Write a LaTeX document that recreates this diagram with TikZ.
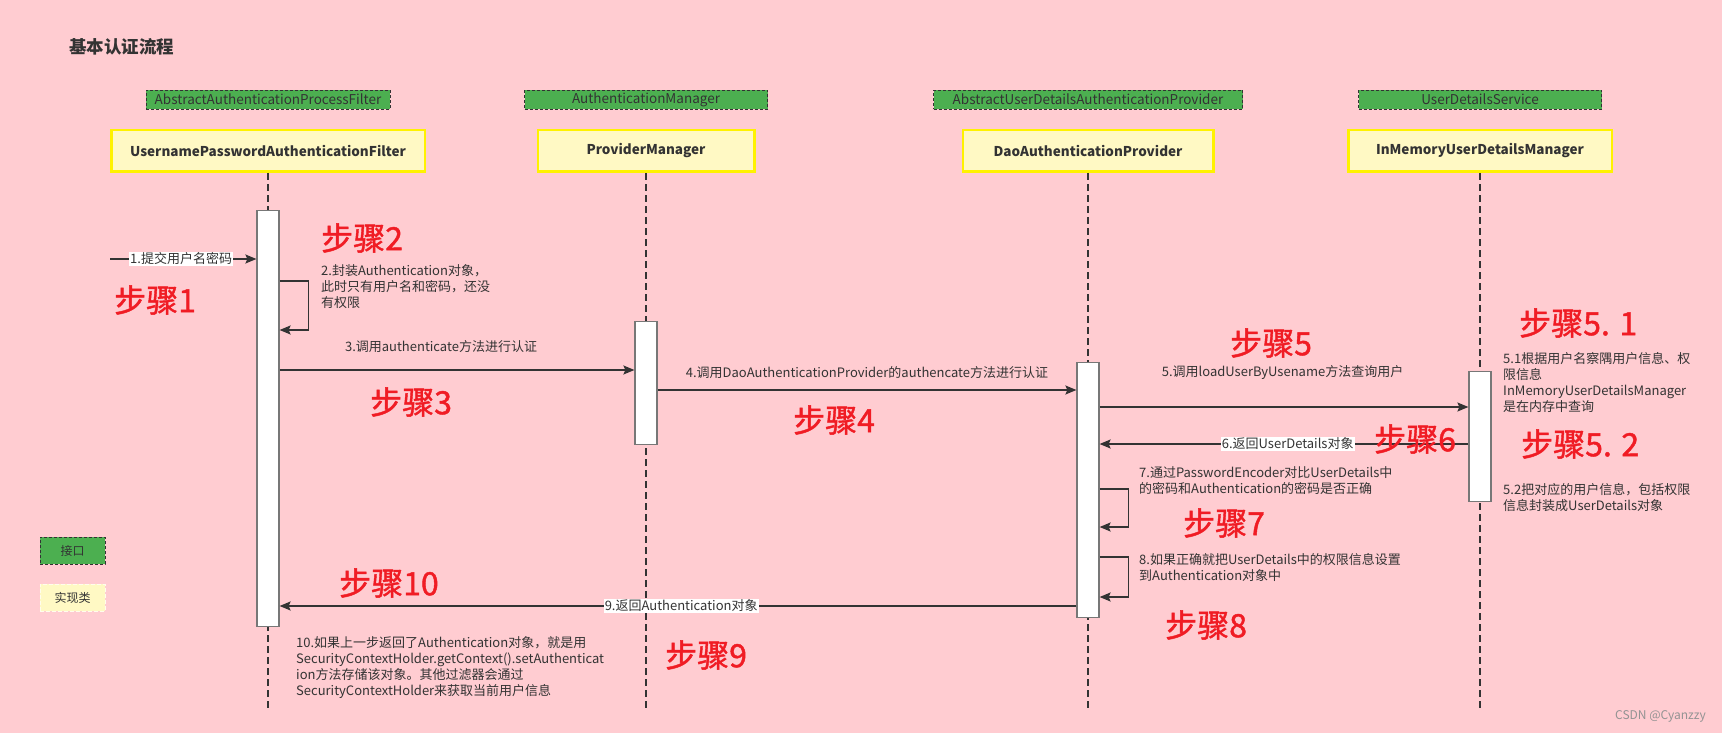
\documentclass[tikz,border=0pt]{standalone}
\usepackage{fontspec}
\setmainfont{Noto Sans CJK SC}
\newfontfamily\stepfont{Noto Sans CJK SC}[FakeBold=1.3]
\usepackage{xcolor}
\usetikzlibrary{arrows.meta,positioning,calc}

\definecolor{bgpink}{HTML}{FFCCD1}
\definecolor{ifgreen}{HTML}{4CAF50}
\definecolor{implyellow}{HTML}{FFF9C4}
\definecolor{stepred}{HTML}{F01C24}
\definecolor{linegray}{HTML}{333333}
\definecolor{bargray}{HTML}{777777}

\tikzset{
  iface/.style={draw=linegray, dash pattern=on 3pt off 2pt, line width=0.8pt, fill=ifgreen, text=linegray,
    font=\fontsize{13.5}{15}\selectfont, minimum height=19pt, inner sep=0pt},
  impl/.style={draw=yellow, line width=2.5pt, fill=implyellow, text=linegray,
    font=\bfseries\fontsize{13.5}{16}\selectfont, minimum height=41.5pt, inner sep=0pt},
  legimpl/.style={draw=implyellow!30!white, dash pattern=on 4pt off 2pt, line width=1pt, fill=implyellow,
    text=linegray, font=\fontsize{12}{14}\selectfont, minimum width=65pt, minimum height=27pt, inner sep=0pt},
  lifeline/.style={linegray, line width=1.8pt, dash pattern=on 7pt off 4pt},
  actbar/.style={draw=bargray, line width=1.2pt, fill=white, minimum width=22pt, inner sep=0pt, anchor=north},
  msg/.style={linegray, line width=1.6pt, -{Stealth[length=11pt,width=9pt,inset=2pt]}},
  msgtext/.style={text=linegray, font=\fontsize{13}{16}\selectfont, inner sep=0pt},
  note/.style={msgtext, align=left, anchor=west},
  onlinetext/.style={msgtext, fill=white, inner sep=1pt},
  steplabel/.style={text=stepred, font=\stepfont\fontsize{32}{34}\selectfont, inner sep=0pt, anchor=west},
}

\begin{document}
\begin{tikzpicture}[x=1pt, y=-1pt]
    \fill[bgpink] (0,0) rectangle (1722,733); % background
    \useasboundingbox (0,0) rectangle (1722,733);

    \node[anchor=west, text=linegray, font=\bfseries\fontsize{17.5}{20}\selectfont, inner sep=0pt] (title) at (69,47) {基本认证流程};

    % interfaces
    \node[iface, minimum width=244pt] (tagfilter) at (268,99.5) {AbstractAuthenticationProcessFilter};
    \node[iface, minimum width=243pt] (tagmanager) at (646,99.5) {AuthenticationManager};
    \node[iface, minimum width=309pt] (tagdao) at (1088,99.5) {AbstractUserDetailsAuthenticationProvider};
    \node[iface, minimum width=243pt] (tagservice) at (1480,99.5) {UserDetailsService};

    % implementations
    \node[impl, minimum width=313.5pt] (filter) at (268,151) {UsernamePasswordAuthenticationFilter};
    \node[impl, minimum width=216.5pt] (manager) at (646,151) {ProviderManager};
    \node[impl, minimum width=250.5pt] (dao) at (1088,151) {DaoAuthenticationProvider};
    \node[impl, minimum width=263.5pt] (inmem) at (1480,151) {InMemoryUserDetailsManager};

    % lifelines
    \foreach \obj in {filter,manager,dao,inmem}
        \draw[lifeline] (\obj.south) -- ++(0,535) coordinate (\obj-end);

    % activation bars
    \node[actbar, minimum height=416pt] (bar1) at (268,210) {};
    \node[actbar, minimum height=123pt] (bar2) at (646,321) {};
    \node[actbar, minimum height=255pt] (bar3) at (1088,362) {};
    \node[actbar, minimum height=130pt] (bar4) at (1480,371) {};

    % messages
    \coordinate (user) at (110,259);
    \draw[msg] (user) -- node[onlinetext, pos=.486] (m1) {1.提交用户名密码} (bar1.west |- user);
    \draw[msg] (bar1.east |- 0,281) -- ++(29,0) -- ++(0,49) -- (bar1.east |- 0,330);
    \draw[msg] (bar1.east |- 0,370) -- node[msgtext, pos=.455, yshift=23pt] (m3) {3.调用authenticate方法进行认证} (bar2.west |- 0,370);
    \draw[msg] (bar2.east |- 0,390) -- node[msgtext, pos=.5, yshift=17pt] (m4) {4.调用DaoAuthenticationProvider的authencate方法进行认证} (bar3.west |- 0,390);
    \draw[msg] (bar3.east |- 0,407) -- node[msgtext, pos=.496, yshift=34pt] (m5) {5.调用loadUserByUsename方法查询用户} (bar4.west |- 0,407);
    \draw[msg] (bar4.west |- 0,444) -- node[onlinetext, pos=.49] (m6) {6.返回UserDetails对象} (bar3.east |- 0,444);
    \draw[msg] (bar3.east |- 0,489) -- ++(29,0) -- ++(0,38) -- (bar3.east |- 0,527);
    \draw[msg] (bar3.east |- 0,557) -- ++(29,0) -- ++(0,40) -- (bar3.east |- 0,597);
    \draw[msg] (bar3.west |- 0,606) -- node[onlinetext, pos=.496] (m9) {9.返回Authentication对象} (bar1.east |- 0,606);

    % notes
    \node[note] (note2) at (321,287) {2.封装Authentication对象，\\此时只有用户名和密码，还没\\有权限};
    \node[note] (note51) at (1503,383) {5.1根据用户名察隅用户信息、权\\限信息\\InMemoryUserDetailsManager\\是在内存中查询};
    \node[note] (note52) at (1503,497.5) {5.2把对应的用户信息，包括权限\\信息封装成UserDetails对象};
    \node[note] (note7) at (1139,481) {7.通过PasswordEncoder对比UserDetails中\\的密码和Authentication的密码是否正确};
    \node[note] (note8) at (1139,567) {8.如果正确就把UserDetails中的权限信息设置\\到Authentication对象中};
    \node[note] (note10) at (296,667.5) {10.如果上一步返回了Authentication对象，就是用\\SecurityContextHolder.getContext().setAuthenticat\\ion方法存储该对象。其他过滤器会通过\\SecurityContextHolder来获取当前用户信息};

    % steps
    \node[steplabel] (step1) at (114,300) {步骤1};
    \node[steplabel] (step2) at (321,238) {步骤2};
    \node[steplabel] (step3) at (370,402) {步骤3};
    \node[steplabel] (step4) at (793,420) {步骤4};
    \node[steplabel] (step5) at (1230,343) {步骤5};
    \node[steplabel] (step51) at (1519,323) {步骤5. 1};
    \node[steplabel] (step6) at (1374,439) {步骤6};
    \node[steplabel] (step52) at (1521,444) {步骤5. 2};
    \node[steplabel] (step7) at (1183,523) {步骤7};
    \node[steplabel] (step8) at (1165,625) {步骤8};
    \node[steplabel] (step9) at (665,655) {步骤9};
    \node[steplabel] (step10) at (339,583) {步骤10};

    % legend
    \node[iface, minimum width=65pt, minimum height=27pt, font=\fontsize{12}{14}\selectfont] (legiface) at (72.5,550.5) {接口};
    \node[legimpl] (legimplbox) at (72.5,597.5) {实现类};

    \node[anchor=east, text=gray!85, font=\fontsize{12}{14}\selectfont, inner sep=0pt] (mark) at (1706,716) {CSDN @Cyanzzy};
\end{tikzpicture}
\end{document}
